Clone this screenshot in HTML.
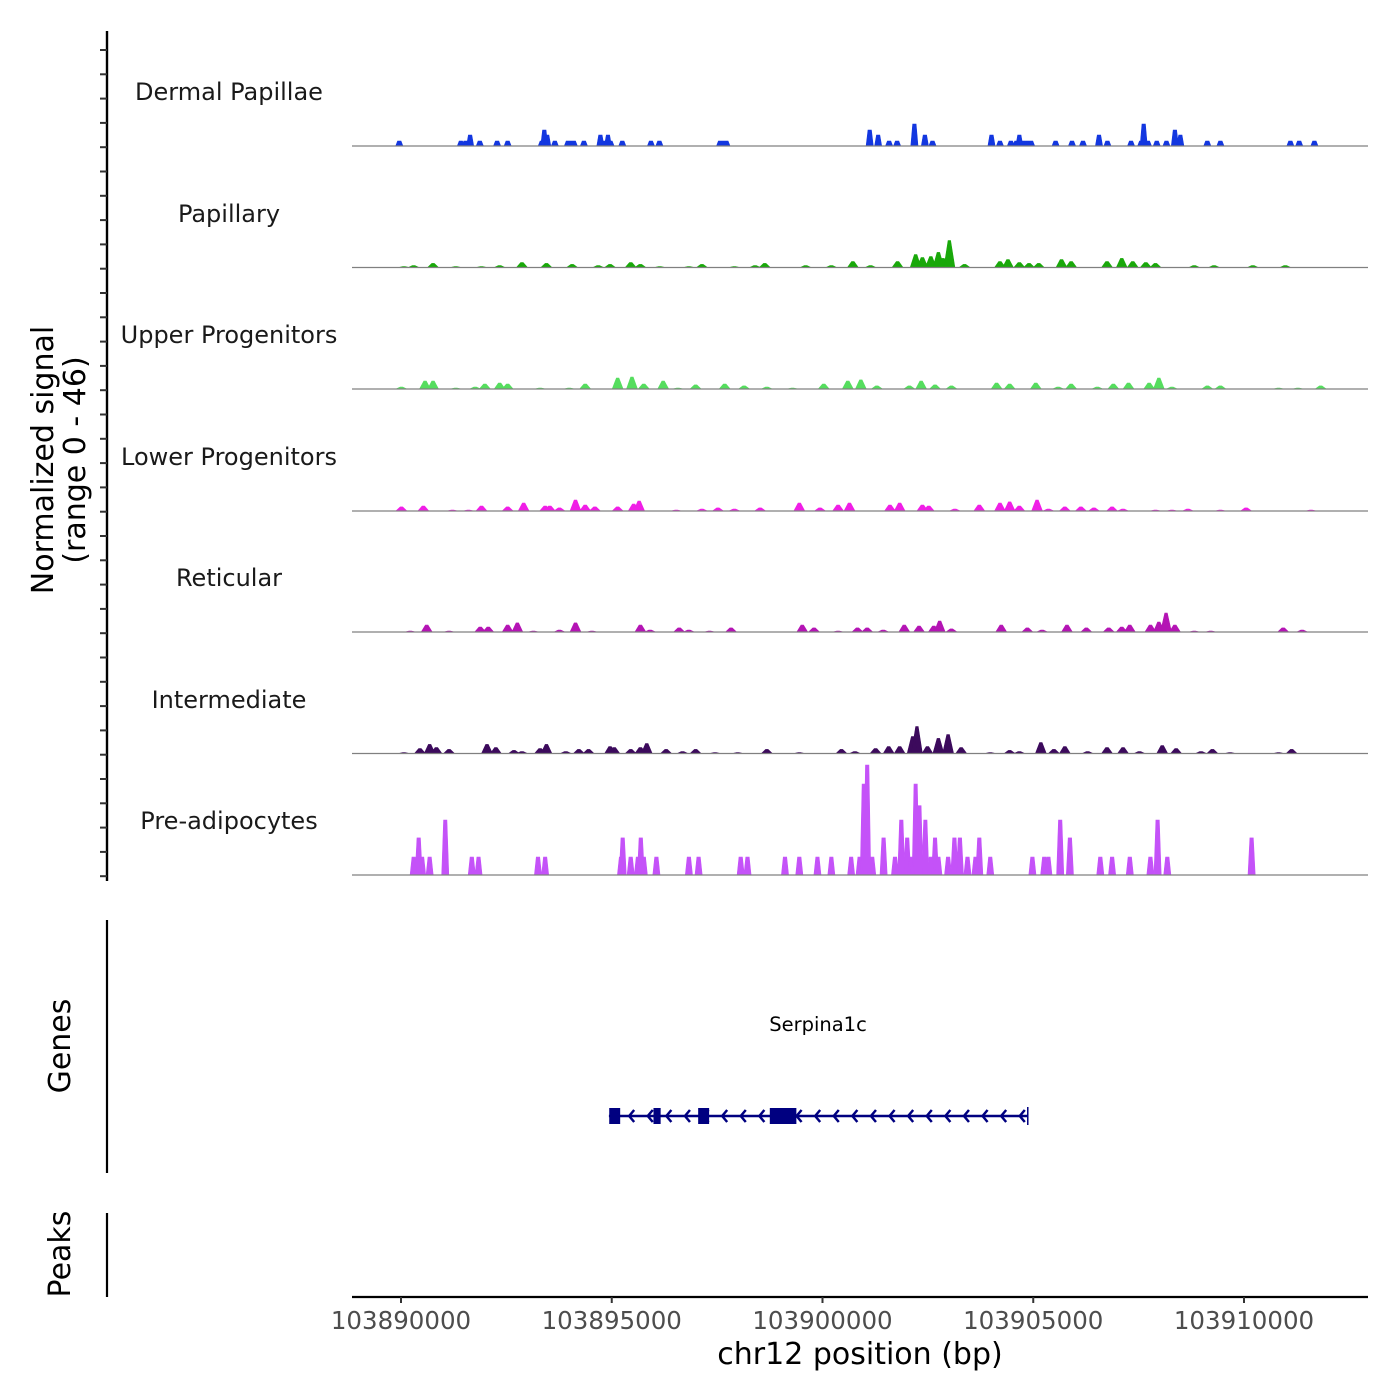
<!DOCTYPE html>
<html><head><meta charset="utf-8">
<style>
html,body{margin:0;padding:0;background:#fff;}
svg{display:block;font-family:"DejaVu Sans","Liberation Sans",sans-serif;}
</style></head>
<body>
<svg id="chart" width="1400" height="1400" viewBox="0 0 1400 1400">
<g id="tracks"></g>
<g id="yaxis"></g>
<text x="53" y="460" font-size="30" text-anchor="middle" transform="rotate(-90 53 460)">Normalized signal</text>
<text x="85" y="460" font-size="30" text-anchor="middle" transform="rotate(-90 85 460)">(range 0 - 46)</text>
<line x1="107" y1="920" x2="107" y2="1173" stroke="#000" stroke-width="2.2"/>
<text x="70" y="1046" font-size="30" text-anchor="middle" transform="rotate(-90 70 1046)">Genes</text>
<line x1="107" y1="1213" x2="107" y2="1297" stroke="#000" stroke-width="2.2"/>
<text x="70" y="1254" font-size="30" text-anchor="middle" transform="rotate(-90 70 1254)">Peaks</text>
<g id="gene"></g>
<g id="xaxis"></g>
<text x="860" y="1364" font-size="30" text-anchor="middle">chr12 position (bp)</text>
</svg>
<script>
// ---- data ----
const trackNames = ["Dermal Papillae","Papillary","Upper Progenitors","Lower Progenitors","Reticular","Intermediate","Pre-adipocytes"];
const trackColors = ["#1337e0","#19a80a","#55dd5e","#f01ee6","#b414b4","#3c0a5c","#c452f8"];
const yMax = 46;
const xTicks = [103890000,103895000,103900000,103905000,103910000];
const origin = 103890000;
// peak positions (kb from origin) and signal values per track
const dpPos = [-0.04,1.42,1.53,1.64,1.87,2.28,2.53,3.34,3.40,3.47,3.65,3.96,4.03,4.10,4.34,4.73,4.83,4.91,4.97,5.25,5.93,6.13,7.57,7.65,7.72,11.12,11.32,11.58,11.77,12.18,12.43,12.61,14.01,14.21,14.47,14.60,14.67,14.77,14.86,14.95,15.53,15.92,16.18,16.56,16.76,17.32,17.56,17.62,17.72,17.93,18.16,18.36,18.49,19.13,19.44,21.10,21.31,21.67];
const dpVal = [2.1,2.1,2.1,4.6,2.1,2.1,2.1,2.1,6.7,4.6,2.1,2.1,2.1,2.1,2.1,4.6,2.1,4.6,2.1,2.1,2.1,2.1,2.1,2.1,2.1,6.7,4.6,2.1,2.1,9.2,4.6,2.1,4.6,2.1,2.1,2.1,4.6,2.1,2.1,2.1,2.1,2.1,2.1,4.6,2.1,2.1,2.1,9.2,2.1,2.1,2.1,6.7,4.6,2.1,2.1,2.1,2.1,2.1];
const papPos = [0.07,0.30,0.76,1.30,1.91,2.34,2.87,3.45,4.06,4.68,4.96,5.45,5.68,6.14,6.83,7.14,7.91,8.40,8.63,9.60,10.21,10.72,11.14,11.78,12.21,12.37,12.57,12.75,12.86,13.01,13.37,14.21,14.40,14.67,14.90,15.13,15.67,15.90,16.75,17.10,17.36,17.67,17.90,18.82,19.29,20.21,20.98];
const papVal = [0.4,0.8,1.7,0.4,0.4,0.8,2.1,1.7,1.3,0.8,1.3,2.1,1.3,0.4,0.4,1.3,0.4,0.8,1.7,0.8,0.8,2.5,0.8,2.5,5.4,4.2,4.6,6.3,3.8,11.3,1.3,2.5,3.3,2.1,1.7,1.7,3.3,2.5,2.5,3.8,2.5,2.1,1.7,0.8,0.8,0.8,0.8];
const upPos = [0.01,0.57,0.76,1.30,1.76,1.99,2.34,2.53,3.30,3.99,4.37,5.14,5.48,5.76,6.22,6.57,6.99,7.68,8.14,8.68,9.29,10.03,10.60,10.91,11.29,12.06,12.34,12.67,13.06,14.13,14.44,15.06,15.59,15.90,16.52,16.90,17.26,17.75,17.98,18.29,19.13,19.44,20.82,21.28,21.82];
const upVal = [0.8,3.3,3.3,0.4,0.8,2.1,2.5,2.1,0.4,0.4,2.1,4.6,5.0,2.1,3.3,0.4,1.7,2.1,1.3,0.8,0.4,2.1,3.3,3.8,1.3,1.3,3.3,1.7,1.3,2.5,2.1,2.5,0.8,2.1,0.8,2.1,2.5,2.5,4.6,0.8,1.3,1.3,0.4,0.4,1.3];
const lpPos = [0.01,0.53,1.22,1.60,1.91,2.53,2.91,3.42,3.53,3.76,4.14,4.37,4.60,5.14,5.52,5.65,6.53,7.14,7.52,7.91,8.52,9.45,9.94,10.37,10.64,11.60,11.83,12.37,12.52,13.14,13.72,14.21,14.44,14.67,15.09,15.36,15.75,16.13,16.44,16.87,17.13,17.90,18.29,18.67,19.44,20.05,21.59];
const lpVal = [1.7,2.1,0.4,0.4,2.1,1.7,3.3,2.1,2.1,1.3,4.6,2.5,1.7,1.7,2.9,4.2,0.4,0.8,1.3,0.8,1.3,3.3,1.3,2.5,3.3,2.5,3.3,2.5,2.1,0.8,2.5,3.3,3.8,2.1,4.6,0.8,1.7,1.7,1.3,1.7,0.8,0.4,0.4,0.8,0.4,1.3,0.4];
const retPos = [0.22,0.61,1.14,1.88,2.07,2.53,2.76,3.14,3.76,4.14,4.53,5.68,5.91,6.60,6.83,7.32,7.83,9.52,9.80,10.37,10.83,11.06,11.44,11.94,12.29,12.64,12.78,13.06,14.24,14.86,15.21,15.80,16.26,16.79,17.10,17.29,17.78,17.98,18.15,18.36,18.82,19.21,20.93,21.38];
const retVal = [0.4,2.9,0.4,2.1,2.1,2.9,3.8,0.4,0.8,3.8,0.4,2.9,0.8,1.7,0.8,0.4,1.7,2.9,1.7,0.4,1.7,1.7,0.8,2.9,2.5,2.5,4.6,1.3,2.9,1.7,0.8,2.9,1.7,1.7,2.1,2.9,2.9,4.2,7.9,2.9,0.4,0.4,1.7,0.8];
const intPos = [0.07,0.45,0.68,0.84,1.14,2.04,2.25,2.68,2.87,3.30,3.45,3.91,4.22,4.45,4.96,5.06,5.45,5.68,5.83,6.29,6.68,6.99,7.45,7.99,8.68,9.45,10.45,10.77,11.26,11.57,11.83,12.14,12.24,12.49,12.75,12.98,13.29,13.98,14.44,14.67,15.18,15.49,15.75,16.29,16.75,17.13,17.52,18.06,18.39,18.98,19.25,19.67,20.82,21.13];
const intVal = [0.4,2.1,3.8,2.5,1.7,3.8,2.5,1.3,0.8,2.1,3.8,0.8,1.7,1.7,2.9,2.5,1.7,2.5,4.2,1.7,0.8,1.7,0.4,0.4,1.7,0.4,1.7,0.8,2.1,2.9,2.9,7.1,11.3,2.9,6.3,7.9,2.5,0.4,1.3,0.8,4.6,1.7,2.9,0.8,2.5,2.5,0.8,3.3,2.1,0.8,1.7,0.4,0.4,1.7];
const prePos = [0.30,0.42,0.50,0.68,1.05,1.68,1.84,3.25,3.42,5.22,5.26,5.45,5.62,5.69,5.76,6.06,6.83,7.06,8.06,8.22,9.11,9.45,9.88,10.21,10.68,10.88,10.98,11.06,11.18,11.45,11.72,11.87,12.01,12.10,12.21,12.30,12.44,12.57,12.67,12.75,12.98,13.13,13.26,13.44,13.63,13.72,13.98,14.98,15.26,15.36,15.64,15.87,16.59,16.87,17.29,17.78,17.95,18.18,20.18];
const preVal = [7.5,15.5,7.5,7.5,23,7.5,7.5,7.5,7.5,7.5,15.5,7.5,7.5,15.5,7.5,7.5,7.5,7.5,7.5,7.5,7.5,7.5,7.5,7.5,7.5,7.5,38,46,7.5,15.5,7.5,23,15.5,7.5,38,29,23,7.5,15.5,7.5,7.5,15.5,15.5,7.5,7.5,15.5,7.5,7.5,7.5,7.5,23,15.5,7.5,7.5,7.5,7.5,23,7.5,15.5];
const trackPos = [dpPos,papPos,upPos,lpPos,retPos,intPos,prePos];
const trackVal = [dpVal,papVal,upVal,lpVal,retVal,intVal,preVal];
// gene model (bp)
const geneStart = 103894980, geneEnd = 103904870;
const exonStarts = [103894940,103895990,103897050,103898750];
const exonEnds   = [103895200,103896160,103897310,103899380];

// ---- scales ----
const NS='http://www.w3.org/2000/svg';
const pxPerBp = 0.04215, x0 = 401;
function xs(bp){return x0+(bp-origin)*pxPerBp;}
function xk(kb){return xs(origin+kb*1000);}
const baselines=[146,267.5,389,511,632,753.5,875];
const pxPerUnit = 110/yMax;
function ys(v,i){return baselines[i]-v*pxPerUnit;}
function mk(tag,attrs,parent){const e=document.createElementNS(NS,tag);for(const k in attrs)e.setAttribute(k,attrs[k]);parent.appendChild(e);return e;}

const tracks=document.getElementById('tracks');
const labelY=[92,214,335,457,578,700,821];
trackNames.forEach((name,i)=>{
  const g=mk('g',{},tracks);
  
  
  const t=mk('text',{x:229,y:labelY[i]+8,'font-size':24,'text-anchor':'middle',fill:'#1a1a1a'},g);
  t.textContent=name;
  
  
  const sparse = (i===0||i===6);
  const wb = sparse?0.085:0.13, wt = sparse?0.04:0.03;
  const pos=trackPos[i], val=trackVal[i];
  let d='';
  for(let j=0;j<pos.length;j++){
    const b=baselines[i], top=ys(val[j],i);
    const l=xk(pos[j]-wb), r=xk(pos[j]+wb), tl=xk(pos[j]-wt), tr=xk(pos[j]+wt);
    d+=`M${l.toFixed(1)},${b}L${tl.toFixed(1)},${top.toFixed(1)}L${tr.toFixed(1)},${top.toFixed(1)}L${r.toFixed(1)},${b}Z`;
  }
  const p=mk('path',{d:d,fill:trackColors[i],stroke:trackColors[i],'stroke-width':0.6},g);
  
  
  const bl=mk('line',{x1:352,x2:1368,y1:baselines[i],y2:baselines[i],stroke:'#808080','stroke-width':1.2},g);
  
  
});

// y axis
const ya=document.getElementById('yaxis');
mk('line',{x1:107,y1:31,x2:107,y2:881,stroke:'#000','stroke-width':2.4},ya);
for(let k=0;k<35;k++){
  const y=50+k*24.3;
  const tk=mk('line',{x1:100,x2:107,y1:y,y2:y,stroke:'#333','stroke-width':2},ya);
  
  
}

// gene
const gg=document.getElementById('gene');
const gc='#000080';
mk('line',{x1:xs(geneStart)-2,x2:xs(geneEnd),y1:1116,y2:1116,stroke:gc,'stroke-width':2.5},gg);
mk('line',{x1:xs(geneEnd),x2:xs(geneEnd),y1:1107,y2:1125,stroke:gc,'stroke-width':1.5},gg);
for(let x=xs(geneEnd)-8;x>xs(geneStart)+14;x-=18.6){
  const a=mk('path',{d:`M${x+5},${1110}L${x},${1116}L${x+5},${1122}`,fill:'none',stroke:gc,'stroke-width':2.5},gg);
  
  
}
exonStarts.forEach((s,i)=>{
  const e=mk('rect',{x:xs(s),y:1108,width:xs(exonEnds[i])-xs(s),height:16,fill:gc},gg);
  
  
});
const gl=mk('text',{x:818,y:1031,'font-size':19.5,'text-anchor':'middle',fill:'#000'},gg);
gl.textContent='Serpina1c';



// x axis
const xa=document.getElementById('xaxis');
mk('line',{x1:352,x2:1368,y1:1297,y2:1297,stroke:'#000','stroke-width':2.2},xa);
xTicks.forEach(t=>{
  const x=xs(t);
  const tk=mk('line',{x1:x,x2:x,y1:1297,y2:1303,stroke:'#333','stroke-width':2},xa);
  
  
  const lb=mk('text',{x:x,y:1329,'font-size':24.5,'text-anchor':'middle',fill:'#4d4d4d'},xa);
  lb.textContent=String(t);
  
  
});
</script>
</body></html>
